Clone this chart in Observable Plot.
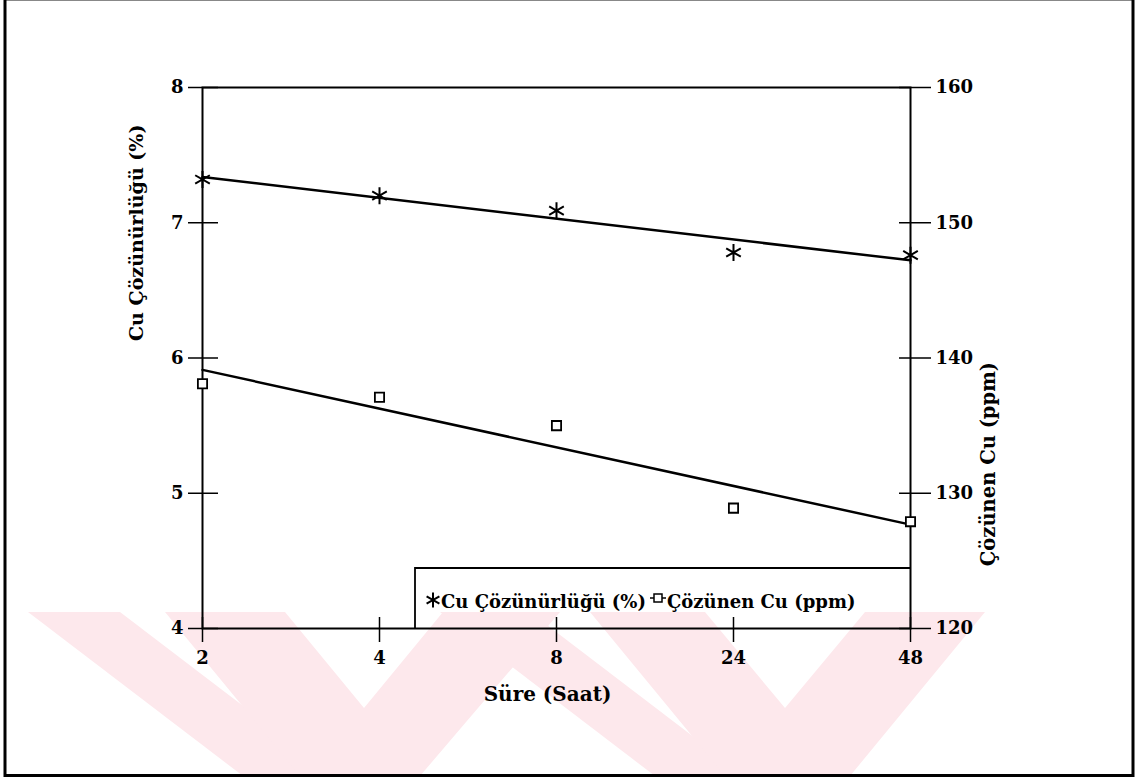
<!DOCTYPE html>
<html>
<head>
<meta charset="utf-8">
<script src="https://cdn.jsdelivr.net/npm/d3@7"></script>
<script src="https://cdn.jsdelivr.net/npm/@observablehq/plot@0.6"></script>
<style>
  body { margin: 0; background: #fff; }
  #chart svg { display: block; }
</style>
</head>
<body>
<div id="chart"></div>
<script>
// Leaching time (hours), shown as evenly spaced categories
const hours = ["2", "4", "8", "24", "48"];
// Cu solubility (%) — left axis
const solubility = [7.32, 7.20, 7.09, 6.78, 6.76];
// Dissolved Cu (ppm) — right axis
const dissolved = [138.1, 137.1, 135.0, 128.9, 127.9];
// Axis tick values
const leftTicks = [4, 5, 6, 7, 8];
const rightTicks = [120, 130, 140, 150, 160];
// Titles and legend entries
const leftTitle = ["Cu Çözünürlüğü (%)"];
const rightTitle = ["Çözünen Cu (ppm)"];
const xTitle = ["Süre (Saat)"];
const legendLabels = ["Cu Çözünürlüğü (%)", "Çözünen Cu (ppm)"];

// The ppm axis shares the frame with the % axis: 120–160 ppm spans 4–8 %
const toLeft = ppm => leftTicks[0] + (ppm - rightTicks[0]) * (leftTicks[4] - leftTicks[0]) / (rightTicks[4] - rightTicks[0]);
const toRight = v => rightTicks[0] + (v - leftTicks[0]) * (rightTicks[4] - rightTicks[0]) / (leftTicks[4] - leftTicks[0]);

const solRows = hours.map((h, i) => ({i, v: solubility[i]}));
const dissRows = hours.map((h, i) => ({i, v: toLeft(dissolved[i])}));
const xIndex = hours.map((h, i) => i);

const serif = "'DejaVu Serif', 'Liberation Serif', serif";

const chart = Plot.plot({
  width: 1138,
  height: 780,
  marginLeft: 202,
  marginRight: 228,
  marginTop: 87,
  marginBottom: 152,
  style: {fontFamily: serif, fontWeight: "bold", fontSize: "18px", color: "black", background: "transparent", overflow: "visible"},
  x: {domain: [0, hours.length - 1], axis: null, label: null},
  y: {domain: [leftTicks[0], leftTicks[4]], axis: null, label: null},
  marks: [
    Plot.frame({stroke: "black", strokeWidth: 2}),
    Plot.axisY(leftTicks, {anchor: "left", label: null, tickSize: 30, dx: 16, tickPadding: 5, strokeWidth: 1.5, fontSize: 18, tickFormat: d => String(d)}),
    Plot.axisY(leftTicks, {anchor: "right", label: null, tickSize: 32, dx: -12, tickPadding: 5, strokeWidth: 1.5, fontSize: 18, tickFormat: d => String(toRight(d))}),
    Plot.axisX(xIndex, {anchor: "bottom", label: null, tickSize: 25, dy: -11, tickPadding: 9, strokeWidth: 1.5, fontSize: 18, tickFormat: i => hours[i]}),
    Plot.linearRegressionY(solRows, {x: "i", y: "v", ci: 0, stroke: "black", strokeWidth: 2.5}),
    Plot.linearRegressionY(dissRows, {x: "i", y: "v", ci: 0, stroke: "black", strokeWidth: 2.5}),
    Plot.dot(solRows, {x: "i", y: "v", symbol: "asterisk", r: 8, stroke: "black", strokeWidth: 2}),
    Plot.dot(dissRows, {x: "i", y: "v", symbol: "square", r: 5.2, stroke: "black", fill: "white", strokeWidth: 1.8}),
    Plot.text(leftTitle, {text: d => d, frameAnchor: "left", dx: -66, dy: -17, rotate: -90, fontSize: 19, lineAnchor: "middle"}),
    Plot.text(rightTitle, {text: d => d, frameAnchor: "right", dx: 78, dy: 4, rotate: -90, fontSize: 19.5, lineAnchor: "middle"}),
    Plot.text(xTitle, {text: d => d, frameAnchor: "bottom", dx: -9, dy: 66, fontSize: 20, lineAnchor: "middle"})
  ]
});

const svg = d3.select(chart);
const xs = chart.scale("x"), ys = chart.scale("y");
const [fx0, fx1] = xs.range;
const [fy1, fy0] = ys.range; // bottom, top

// Faint pink background watermark (drawn first, beneath everything)
const wm = svg.insert("g", ":first-child").attr("fill", "#fde8ec");
const wmShapes = [
  [[28, 612], [120, 612], [335, 776], [243, 776]],
  [[165, 612], [285, 612], [364, 708], [443, 612], [560, 612], [420, 776], [300, 776]],
  [[440, 612], [530, 612], [745, 776], [655, 776]],
  [[590, 612], [705, 612], [785, 708], [865, 612], [985, 612], [850, 776], [725, 776]]
];
wmShapes.forEach(p => wm.append("polygon").attr("points", p.map(q => q.join(",")).join(" ")));

// Outer figure border
const border = svg.append("g").attr("fill", "none");
border.append("line").attr("x1", 5).attr("x2", 1133).attr("y1", 0.5).attr("y2", 0.5).attr("stroke", "#888").attr("stroke-width", 1);
border.append("line").attr("x1", 5).attr("x2", 5).attr("y1", 0).attr("y2", 777).attr("stroke", "black").attr("stroke-width", 3);
border.append("line").attr("x1", 1133).attr("x2", 1133).attr("y1", 0).attr("y2", 777).attr("stroke", "black").attr("stroke-width", 3);
border.append("line").attr("x1", 5).attr("x2", 1133).attr("y1", 775.5).attr("y2", 775.5).attr("stroke", "black").attr("stroke-width", 3);

// Legend box sitting in the lower right corner of the frame
const lg = svg.append("g").attr("font-family", serif).attr("font-weight", "bold").attr("font-size", 18).attr("text-anchor", "start");
const lx0 = 415, ly0 = 568;
lg.append("path").attr("d", `M${lx0},${fy1}V${ly0}H${fx1}`).attr("fill", "none").attr("stroke", "black").attr("stroke-width", 1.8);
const ly = 600;
lg.append("path").attr("d", d3.symbol(d3.symbolAsterisk, Math.PI * 49)()).attr("transform", `translate(433,${ly})`)
  .attr("fill", "none").attr("stroke", "black").attr("stroke-width", 2);
lg.append("text").attr("x", 441).attr("y", ly + 8).text(legendLabels[0]);
lg.append("line").attr("x1", 650).attr("x2", 666).attr("y1", ly - 2).attr("y2", ly - 2).attr("stroke", "black").attr("stroke-width", 1.5);
lg.append("rect").attr("x", 654).attr("y", ly - 6).attr("width", 8).attr("height", 8).attr("fill", "white").attr("stroke", "black").attr("stroke-width", 1.5);
lg.append("text").attr("x", 667).attr("y", ly + 8).text(legendLabels[1]);

document.getElementById("chart").append(chart);
</script>
</body>
</html>
